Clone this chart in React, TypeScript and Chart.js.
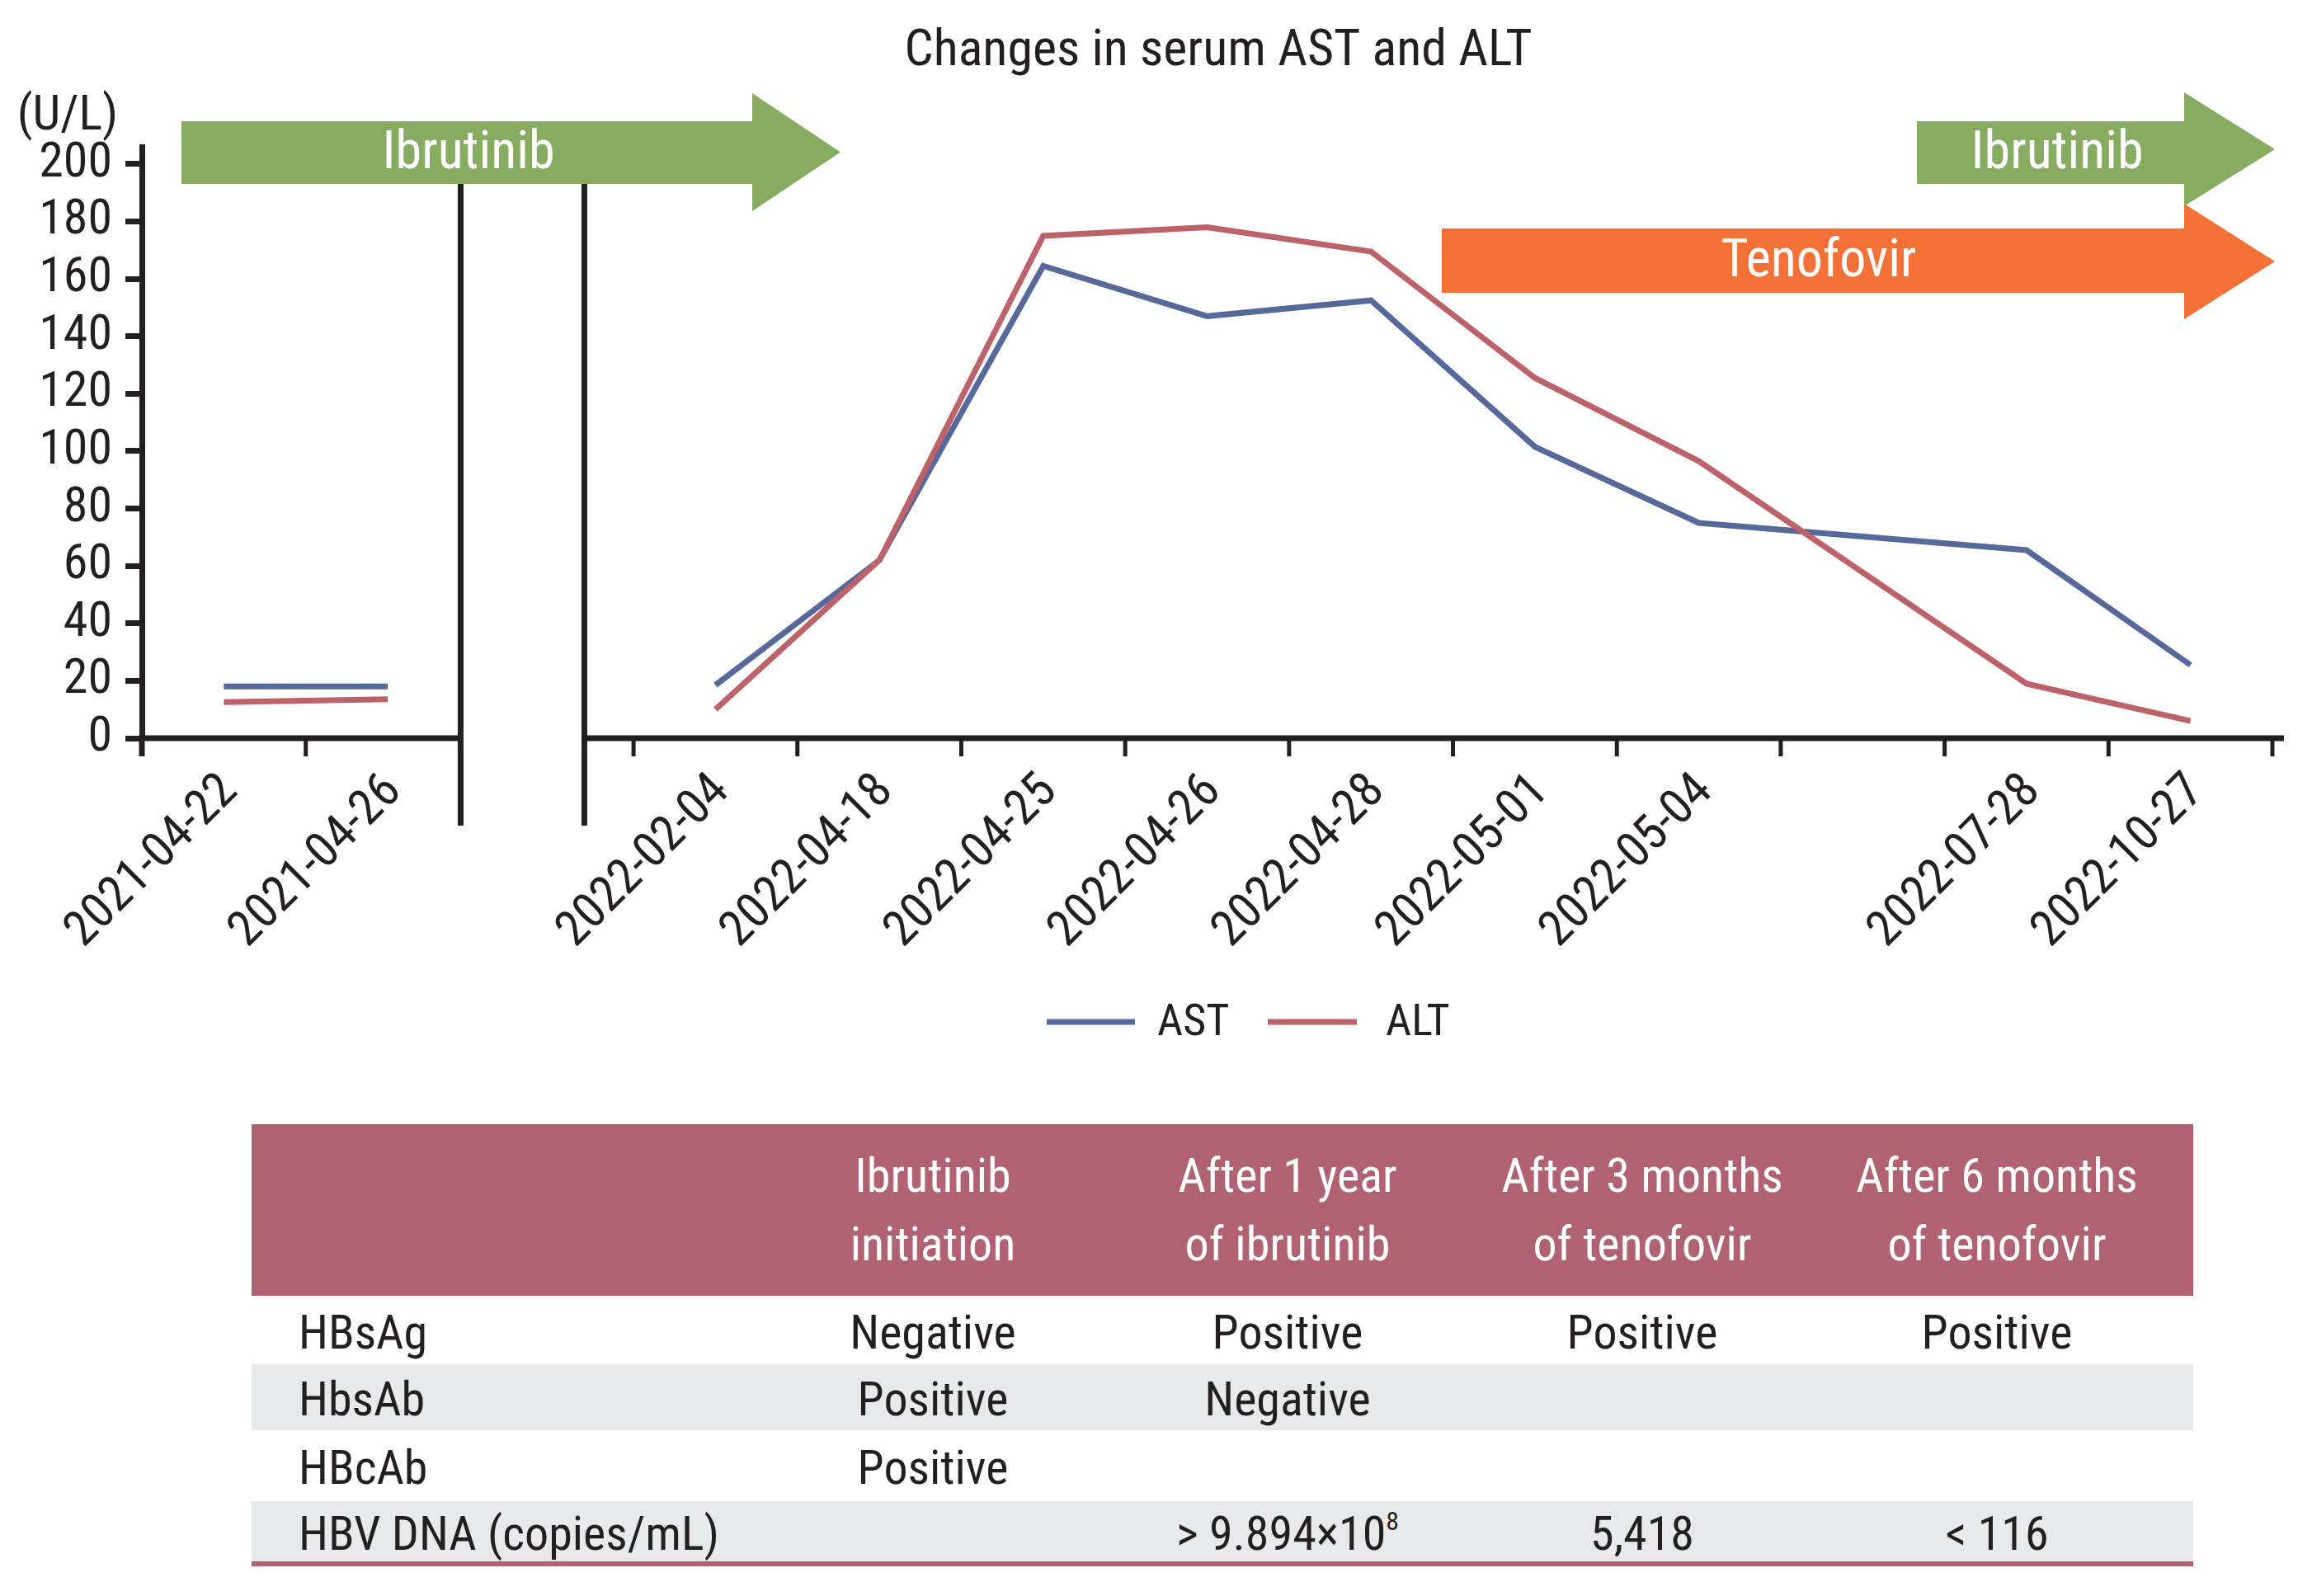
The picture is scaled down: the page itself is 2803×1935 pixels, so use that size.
import React, { useEffect, useRef } from 'react';
import { Chart, registerables } from 'chart.js';

Chart.register(...registerables);

// ---------- data ----------
const categories = [
  '2021-04-22', '2021-04-26', '',
  '2022-02-04', '2022-04-18', '2022-04-25', '2022-04-26', '2022-04-28',
  '2022-05-01', '2022-05-04', '', '2022-07-28', '2022-10-27',
];
const astValues = [18, 18, null, 18.5, 62, 164.5, 147, 152.5, 101.5, 75, null, 65.5, 25.5];
const altValues = [12.6, 13.6, null, 10, 62, 175, 178, 169.5, 125.5, 96.5, null, 19, 6];
const seriesNames = ['AST', 'ALT'];
const yTickValues = [0, 20, 40, 60, 80, 100, 120, 140, 160, 180, 200];
const yUnit = '(U/L)';
const chartTitle = 'Changes in serum AST and ALT';
const arrowLabels = ['Ibrutinib', 'Tenofovir', 'Ibrutinib'];

const tableHeader = ['', 'Ibrutinib\ninitiation', 'After 1 year\nof ibrutinib', 'After 3 months\nof tenofovir', 'After 6 months\nof tenofovir'];
const rowHBsAg = ['HBsAg', 'Negative', 'Positive', 'Positive', 'Positive'];
const rowHbsAb = ['HbsAb', 'Positive', 'Negative', '', ''];
const rowHBcAb = ['HBcAb', 'Positive', '', '', ''];
const rowDNA = ['HBV DNA (copies/mL)', '', '> 9.894×10^8', '5,418', '< 116'];
const tableRows = [rowHBsAg, rowHbsAb, rowHBcAb, rowDNA];

// ---------- style ----------
const FONT = "'Liberation Sans Narrow', 'Arial Narrow', 'Roboto Condensed', 'DejaVu Sans Condensed', sans-serif";
const INK = '#231f20';
const BLUE = '#56699a';
const RED = '#be626a';
const GREEN = '#87ab61';
const ORANGE = '#f37136';
const MAUVE = '#b06272';
const GRAY = '#e8e9eb';

const W = 2787;
const H = 1300;
const AXIS_W = 7;

const hideGap = (c: any) => (c.p1DataIndex === 3 || c.p0DataIndex === 1 ? 'rgba(0,0,0,0)' : undefined);

const decor = {
  id: 'decor',
  afterDraw(chart: any) {
    const { ctx, chartArea, scales } = chart;
    const xs = scales.x;
    const left = chartArea.left;
    const right = chartArea.right;
    const bottom = chartArea.bottom;
    const cw = xs.getPixelForValue(1) - xs.getPixelForValue(0);
    const gapC = xs.getPixelForValue(2);
    const bL = gapC - 0.555 * cw;
    const bR = gapC + 0.2 * cw;
    ctx.save();
    ctx.strokeStyle = INK;
    ctx.lineCap = 'butt';
    const seg = (x1: number, y1: number, x2: number, y2: number, w: number) => {
      ctx.lineWidth = w;
      ctx.beginPath();
      ctx.moveTo(x1, y1);
      ctx.lineTo(x2, y2);
      ctx.stroke();
    };
    // broken x axis
    seg(left - 3.5, bottom, bL, bottom, AXIS_W);
    seg(bR, bottom, right + 14, bottom, AXIS_W);
    for (let k = 0; k <= categories.length; k++) {
      const bx = left + k * cw;
      if (bx > bL - 3 && bx < bR + 3) continue;
      seg(bx, bottom, bx, bottom + 22, k === 0 ? AXIS_W : 5);
    }
    // break lines
    seg(bL, 200, bL, bottom + 106, AXIS_W);
    seg(bR, 200, bR, bottom + 106, AXIS_W);

    // arrows
    const arrow = (x0: number, xb: number, xt: number, bt: number, bb: number, ht: number, hb: number, color: string) => {
      ctx.fillStyle = color;
      ctx.beginPath();
      ctx.moveTo(x0, bt);
      ctx.lineTo(xb, bt);
      ctx.lineTo(xb, ht);
      ctx.lineTo(xt, (ht + hb) / 2);
      ctx.lineTo(xb, hb);
      ctx.lineTo(xb, bb);
      ctx.lineTo(x0, bb);
      ctx.closePath();
      ctx.fill();
    };
    arrow(212, 904, 1011, 139, 215, 105, 248, GREEN);
    arrow(2316, 2640, 2750, 139, 215, 104, 242, GREEN);
    arrow(1740, 2640, 2750, 269, 347, 239, 379, ORANGE);
    ctx.fillStyle = '#ffffff';
    ctx.textAlign = 'center';
    ctx.textBaseline = 'middle';
    ctx.font = `64px ${FONT}`;
    ctx.fillText(arrowLabels[0], 560, 180);
    ctx.fillText(arrowLabels[1], 2197, 311);
    ctx.fillText(arrowLabels[2], 2486, 180);

    // title
    ctx.fillStyle = INK;
    ctx.textBaseline = 'alphabetic';
    ctx.font = `62px ${FONT}`;
    ctx.fillText(chartTitle, 1469, 71);
    // unit
    ctx.font = `60px ${FONT}`;
    ctx.fillText(yUnit, 74, 149);

    // legend
    const legendItems = [
      { name: seriesNames[0], color: BLUE, x0: 1261, x1: 1368, tx: 1395 },
      { name: seriesNames[1], color: RED, x0: 1529, x1: 1637, tx: 1672 },
    ];
    ctx.font = `54px ${FONT}`;
    ctx.textAlign = 'left';
    ctx.textBaseline = 'middle';
    for (const it of legendItems) {
      ctx.strokeStyle = it.color;
      seg(it.x0, 1231, it.x1, 1231, 7);
      ctx.fillStyle = INK;
      ctx.fillText(it.name, it.tx, 1233);
    }
    ctx.restore();
  },
};

function ChartCanvas() {
  const ref = useRef<HTMLCanvasElement | null>(null);
  useEffect(() => {
    if (!ref.current) return;
    const chart = new Chart(ref.current, {
      type: 'line',
      data: {
        labels: categories,
        datasets: [
          {
            label: seriesNames[0],
            data: astValues,
            borderColor: BLUE,
            backgroundColor: BLUE,
            borderWidth: 7,
            pointRadius: 0,
            pointHoverRadius: 0,
            tension: 0,
            spanGaps: true,
            order: 2,
            segment: { borderColor: hideGap },
          },
          {
            label: seriesNames[1],
            data: altValues,
            borderColor: RED,
            backgroundColor: RED,
            borderWidth: 7,
            pointRadius: 0,
            pointHoverRadius: 0,
            tension: 0,
            spanGaps: true,
            order: 1,
            segment: { borderColor: hideGap },
          },
        ],
      },
      options: {
        responsive: false,
        animation: false,
        events: [],
        layout: { padding: { top: 170, left: 0, right: 40, bottom: 0 } },
        plugins: {
          legend: { display: false },
          title: { display: false },
          tooltip: { enabled: false },
        },
        scales: {
          x: {
            type: 'category',
            offset: true,
            grid: { display: false },
            border: { display: false },
            afterFit: (s: any) => { s.height = H - 887; },
            ticks: {
              autoSkip: false,
              minRotation: 45,
              maxRotation: 45,
              padding: 22,
              labelOffset: 8,
              color: INK,
              font: { family: FONT, size: 60 },
            },
          },
          y: {
            min: 0,
            max: 206,
            afterFit: (s: any) => { s.width = 164; },
            afterBuildTicks: (s: any) => {
              s.ticks = yTickValues.map((v) => ({ value: v }));
            },
            grid: {
              display: true,
              drawOnChartArea: false,
              drawTicks: true,
              tickLength: 20,
              tickWidth: 7,
              tickColor: INK,
              color: INK,
            },
            border: { display: true, width: AXIS_W, color: INK },
            ticks: {
              autoSkip: false,
              stepSize: 20,
              padding: 16,
              color: INK,
              font: { family: FONT, size: 60 },
            },
          },
        },
      },
      plugins: [decor],
    } as any);
    return () => chart.destroy();
  }, []);
  return <canvas ref={ref} width={W} height={H} style={{ display: 'block', width: W, height: H }} />;
}

function renderCell(text: string) {
  if (text.includes('^')) {
    const [base, sup] = text.split('^');
    return (
      <>
        {base}
        <sup style={{ fontSize: '0.55em', verticalAlign: '0.75em', lineHeight: 0 }}>{sup}</sup>
      </>
    );
  }
  return text;
}

const colWidths = [611, 430, 430, 430, 453];
const rowHeights = [83, 80, 86, 76];

export default function App() {
  return (
    <div style={{ width: W }}>
      <ChartCanvas />
      <table
        style={{
          borderCollapse: 'collapse',
          tableLayout: 'fixed',
          width: colWidths.reduce((a, b) => a + b, 0),
          marginLeft: 297,
          marginTop: 55,
          fontFamily: FONT,
          fontSize: 58,
          color: INK,
        }}
      >
        <colgroup>
          {colWidths.map((w, i) => (
            <col key={i} style={{ width: w }} />
          ))}
        </colgroup>
        <thead>
          <tr style={{ background: MAUVE, color: '#ffffff', height: 208 }}>
            {tableHeader.map((h, i) => (
              <th
                key={i}
                style={{
                  fontWeight: 'normal',
                  whiteSpace: 'pre-line',
                  lineHeight: '83px',
                  padding: 0,
                  paddingRight: i === 4 ? 23 : 0,
                  textAlign: 'center',
                  verticalAlign: 'middle',
                }}
              >
                {h}
              </th>
            ))}
          </tr>
        </thead>
        <tbody>
          {tableRows.map((row, r) => (
            <tr
              key={r}
              style={{
                background: r % 2 === 1 ? GRAY : '#ffffff',
                height: rowHeights[r],
                borderBottom: r === tableRows.length - 1 ? `6px solid ${MAUVE}` : 'none',
              }}
            >
              {row.map((c, i) => (
                <td
                  key={i}
                  style={{
                    padding: 0,
                    paddingLeft: i === 0 ? 57 : 0,
                    paddingRight: i === 4 ? 23 : 0,
                    paddingTop: 4,
                    textAlign: i === 0 ? 'left' : 'center',
                    verticalAlign: 'middle',
                    lineHeight: 1,
                    whiteSpace: 'nowrap',
                  }}
                >
                  {renderCell(c)}
                </td>
              ))}
            </tr>
          ))}
        </tbody>
      </table>
    </div>
  );
}
